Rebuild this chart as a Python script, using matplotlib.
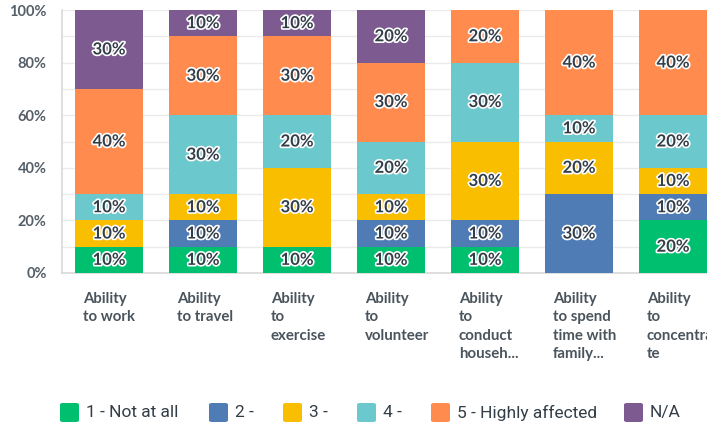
import matplotlib
matplotlib.use("Agg")
import matplotlib.pyplot as plt
import matplotlib.patheffects as pe
from matplotlib.patches import FancyBboxPatch
import numpy as np

categories = ["Ability\nto work", "Ability\nto travel", "Ability\nto\nexercise",
              "Ability\nto\nvolunteer", "Ability\nto\nconduct\nhouseh...",
              "Ability\nto spend\ntime with\nfamily...", "Ability\nto\nconcentra\nte"]
series_names = ["1 - Not at all", "2 -", "3 -", "4 -", "5 - Highly affected", "N/A"]
s1 = [10, 10, 10, 10, 10, 0, 20]
s2 = [0, 10, 0, 10, 10, 30, 10]
s3 = [10, 10, 30, 10, 30, 20, 10]
s4 = [10, 30, 20, 20, 30, 10, 20]
s5 = [40, 30, 30, 30, 20, 40, 40]
s6 = [30, 10, 10, 20, 0, 0, 0]
yticks = [0, 20, 40, 60, 80, 100]

colors = ["#00bf6f", "#507cb6", "#f9be00", "#6bc8cd", "#ff8b4f", "#7d5a8f"]
series = [s1, s2, s3, s4, s5, s6]

W, H = 707, 424
fig = plt.figure(figsize=(W / 100, H / 100), dpi=100)
left = 62
slot = 94
bottom_px = 273
top_px = 10
ax = fig.add_axes([left / W, 1 - bottom_px / H, (W - left) / W, (bottom_px - top_px) / H])

x = np.arange(len(categories))
base = np.zeros(len(categories))
txtc = "#333e48"
for vals, col in zip(series, colors):
    vals = np.array(vals, dtype=float)
    ax.bar(x, vals, bottom=base, width=68 / slot, color=col, zorder=3)
    for xi, v, b in zip(x, vals, base):
        if v > 0:
            ax.text(xi, b + v / 2, f"{int(v)}%", ha="center", va="center",
                    fontsize=12, color=txtc, family="Lato", fontweight="bold", zorder=4,
                    path_effects=[pe.withStroke(linewidth=2.4, foreground="white")])
    base += vals

ax.set_xlim(-0.5, -0.5 + (W - left) / slot)
ax.set_ylim(0, 100)
ax.set_yticks(yticks)
ax.set_yticklabels([f"{t}%" for t in yticks], family="Lato", fontweight="bold",
                   fontsize=10.5, color="#555f68")
ax.set_yticks(np.arange(0, 101, 10), minor=True)
ax.tick_params(axis="y", which="both", length=0, pad=11)
ax.grid(axis="y", which="both", color="#ebebeb", linewidth=1, zorder=0)
ax.set_xticks([])
for s in ["top", "right"]:
    ax.spines[s].set_visible(False)
ax.spines["left"].set_color("#d9d9d9")
ax.spines["bottom"].set_color("#d9d9d9")
ax.spines["left"].set_linewidth(1.2)
ax.spines["bottom"].set_linewidth(1.2)

for xi, lab in zip(x, categories):
    ax.text(xi - 0.28, -7.3, lab, ha="left", va="top", fontsize=10.8, color="#4a545d",
            family="Lato", fontweight="bold", linespacing=1.38, clip_on=False)

# legend
leg_x = [60, 209, 283, 357, 431, 624]
for lx, name, col in zip(leg_x, series_names, colors):
    fig.patches.append(FancyBboxPatch((lx / W, (H - 422) / H), 19 / W, 19 / H,
                                      boxstyle="round,pad=0,rounding_size=0.004",
                                      transform=fig.transFigure, facecolor=col,
                                      edgecolor="none"))
    fig.text((lx + 26) / W, (H - 412.5) / H, name, ha="left", va="center", fontsize=12.5,
             color="#333e48", family="Roboto")

fig.savefig("out.png", dpi=100)
